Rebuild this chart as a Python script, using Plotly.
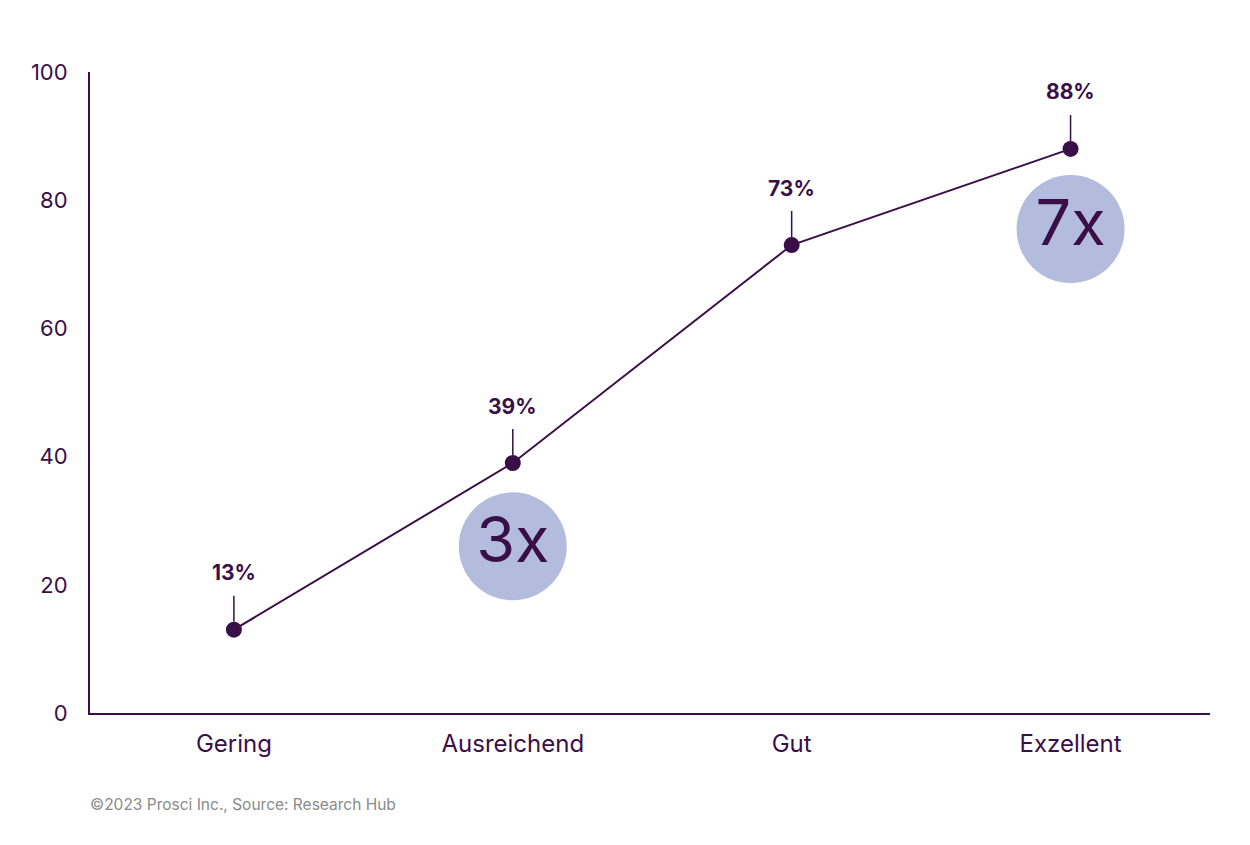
import plotly.graph_objects as go

categories = ["Gering", "Ausreichend", "Gut", "Exzellent"]
values = [13, 39, 73, 88]
labels = ["13%", "39%", "73%", "88%"]

# multiplier bubbles
bubble_x = [1, 3]
bubble_y = [26, 75.5]
bubble_text = ["3x", "7x"]

dark = "#3a0f48"
font = "Inter"

x_pos = list(range(len(categories)))

fig = go.Figure()

fig.add_trace(go.Scatter(
    x=bubble_x, y=bubble_y, mode="markers+text",
    text=bubble_text, textposition="middle center",
    textfont=dict(family=font, size=63, color=dark),
    marker=dict(size=108, color="#b3bcdc", line=dict(width=0)),
    hoverinfo="skip", showlegend=False,
))

fig.add_trace(go.Scatter(
    x=x_pos, y=values, mode="lines+markers",
    line=dict(color=dark, width=2),
    marker=dict(size=16, color=dark),
    showlegend=False,
))

for xp, v, t in zip(x_pos, values, labels):
    fig.add_annotation(
        x=xp, y=v, text="<b>" + t + "</b>",
        showarrow=True, arrowhead=0, arrowwidth=1.5, arrowcolor=dark,
        ax=0, ay=-57, standoff=8, startstandoff=9,
        font=dict(family=font, size=21, color=dark),
    )

fig.add_annotation(
    x=-0.002, y=-0.1435, xref="paper", yref="paper",
    xanchor="left", yanchor="middle", showarrow=False,
    text="©2023 Prosci Inc., Source: Research Hub",
    font=dict(family=font, size=15.5, color="#8a8a8a"),
)

fig.update_layout(
    width=1250, height=845,
    margin=dict(l=82, r=48, t=64, b=140),
    plot_bgcolor="white", paper_bgcolor="white",
    font=dict(family=font, color=dark),
)

fig.update_xaxes(
    range=[-0.516, 3.5], tickvals=x_pos, ticktext=categories,
    showgrid=False, zeroline=False, showline=True, linecolor=dark, linewidth=2,
    ticks="", tickfont=dict(family=font, size=24, color=dark),
    ticklabelstandoff=8,
)

fig.update_yaxes(
    range=[0, 100], tickvals=[0, 20, 40, 60, 80, 100],
    showgrid=False, zeroline=False, showline=True, linecolor=dark, linewidth=2,
    ticks="", tickfont=dict(family=font, size=22, color=dark),
    ticklabelstandoff=16,
)

fig.write_html("out.html")
